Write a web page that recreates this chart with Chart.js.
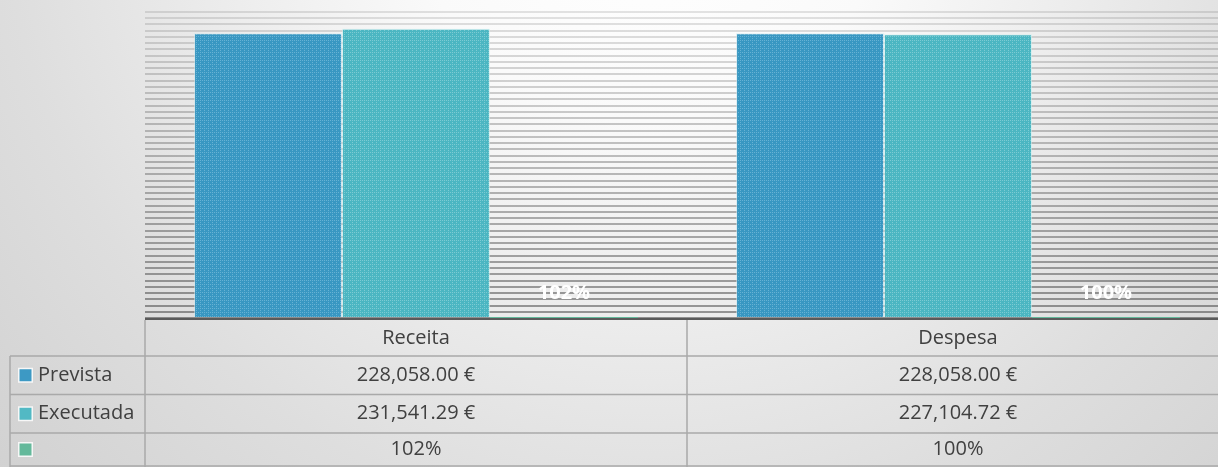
<!DOCTYPE html>
<html>
<head>
<meta charset="utf-8">
<script src="https://cdn.jsdelivr.net/npm/chart.js@4"></script>
<style>
  html, body { margin: 0; padding: 0; overflow: hidden; background: #dcdcdc; }
  #wrap { position: relative; width: 1230px; height: 467px; }
</style>
</head>
<body>
<div id="wrap"><canvas id="c" width="1230" height="467"></canvas></div>
<script>
// ---- data ----
const categories = ['Receita', 'Despesa'];
const seriesNames = ['Prevista', 'Executada', ''];
const prevista = [228058.00, 228058.00];
const executada = [231541.29, 227104.72];
const percentRatio = [1.02, 1.00];
const yMax = 245000;
const yStep = 5000;

// ---- styles ----
const FONT = "'Open Sans', 'DejaVu Sans', sans-serif";
const TEXT = '#404040';
const LINE = '#a9a9a9';

function makePattern(base, light) {
  const c = document.createElement('canvas');
  c.width = 4; c.height = 4;
  const g = c.getContext('2d');
  g.fillStyle = base; g.fillRect(0, 0, 4, 4);
  g.fillStyle = light;
  g.fillRect(0, 0, 1, 1); g.fillRect(2, 0, 1, 1); g.fillRect(0, 2, 1, 1);
  return g.createPattern(c, 'repeat');
}
const ctx0 = document.getElementById('c').getContext('2d');
const fillPrev = makePattern('#3897c2', '#66b2d4');
const fillExec = makePattern('#4bb6c2', '#7ccbd3');
const legendColors = ['#3d99c4', '#52b9c4', '#64b99b'];

function money(v) {
  return v.toLocaleString('en-US', { minimumFractionDigits: 2, maximumFractionDigits: 2 }) + ' €';
}
function pct(v) { return Math.round(v * 100) + '%'; }

const bgPlugin = {
  id: 'bg',
  beforeDraw(chart) {
    const { ctx, width, height } = chart;
    ctx.save();
    const g = ctx.createRadialGradient(650, -120, 40, 650, -120, 1050);
    g.addColorStop(0, '#ffffff');
    g.addColorStop(0.2, '#fafafa');
    g.addColorStop(0.6, '#dedede');
    g.addColorStop(1, '#c8c8c8');
    ctx.fillStyle = g;
    ctx.fillRect(0, 0, width, height);
    ctx.restore();
  }
};

const labelPlugin = {
  id: 'pctLabels',
  afterDatasetsDraw(chart) {
    const { ctx, chartArea } = chart;
    const meta = chart.getDatasetMeta(2);
    ctx.save();
    ctx.font = "bold 20px " + FONT;
    ctx.fillStyle = '#ffffff';
    ctx.textAlign = 'center';
    ctx.textBaseline = 'middle';
    meta.data.forEach((el, i) => {
      ctx.fillText(pct(percentRatio[i]), el.x, chartArea.bottom - 25);
    });
    ctx.restore();
  }
};

const tablePlugin = {
  id: 'dataTable',
  afterDraw(chart) {
    const { ctx, chartArea, width } = chart;
    const xs = chart.scales.x;
    const left = chartArea.left;
    const right = width;
    const top = chartArea.bottom + 2;
    const rows = [top, 356, 394.5, 433, 466];
    const colEdges = [left];
    for (let i = 0; i < categories.length - 1; i++) {
      colEdges.push((xs.getPixelForValue(i) + xs.getPixelForValue(i + 1)) / 2);
    }
    const legendLeft = 10;

    ctx.save();
    ctx.strokeStyle = LINE;
    ctx.lineWidth = 1.5;
    ctx.beginPath();
    for (let r = 1; r < rows.length; r++) {
      ctx.moveTo(legendLeft, rows[r]); ctx.lineTo(right, rows[r]);
    }
    colEdges.forEach(x => { ctx.moveTo(x, top); ctx.lineTo(x, 467); });
    ctx.moveTo(legendLeft, rows[1]); ctx.lineTo(legendLeft, 467);
    ctx.stroke();

    ctx.strokeStyle = '#5a5a5a';
    ctx.lineWidth = 2;
    ctx.beginPath();
    ctx.moveTo(left, chartArea.bottom + 1); ctx.lineTo(right, chartArea.bottom + 1);
    ctx.stroke();

    ctx.font = "20px " + FONT;
    ctx.fillStyle = TEXT;
    ctx.textBaseline = 'middle';
    ctx.textAlign = 'center';
    const mid = (a, b) => (a + b) / 2;
    categories.forEach((c, i) => {
      const x = xs.getPixelForValue(i);
      ctx.fillText(c, x, mid(rows[0], rows[1]));
      ctx.fillText(money(prevista[i]), x, mid(rows[1], rows[2]));
      ctx.fillText(money(executada[i]), x, mid(rows[2], rows[3]));
      ctx.fillText(pct(percentRatio[i]), x, mid(rows[3], rows[4]));
    });
    ctx.textAlign = 'left';
    seriesNames.forEach((n, r) => {
      const cy = mid(rows[r + 1], rows[r + 2]);
      ctx.fillStyle = 'rgba(255,255,255,0.8)';
      ctx.fillRect(18, cy - 7.5, 15, 15);
      ctx.fillStyle = legendColors[r];
      ctx.fillRect(19.5, cy - 6, 12, 12);
      ctx.fillStyle = TEXT;
      ctx.fillText(n, 38, cy);
    });
    ctx.restore();
  }
};

new Chart(ctx0, {
  type: 'bar',
  data: {
    labels: categories,
    datasets: [
      { label: seriesNames[0], data: prevista, backgroundColor: fillPrev, borderColor: 'rgba(200,230,240,0.6)', borderWidth: 1 },
      { label: seriesNames[1], data: executada, backgroundColor: fillExec, borderColor: 'rgba(200,240,240,0.6)', borderWidth: 1 },
      { label: seriesNames[2], data: percentRatio, backgroundColor: legendColors[2], borderWidth: 0 }
    ]
  },
  options: {
    responsive: false,
    animation: false,
    events: [],
    layout: { padding: { left: 145, top: 12, right: 1, bottom: 149 } },
    plugins: { legend: { display: false }, tooltip: { enabled: false } },
    datasets: { bar: { categoryPercentage: 0.819, barPercentage: 1.0 } },
    scales: {
      x: { display: false },
      y: {
        display: true,
        min: 0, max: yMax,
        ticks: { display: false, stepSize: yStep },
        border: { display: false },
        grid: {
          drawTicks: false,
          lineWidth: 2,
          color: (c) => {
            const v = c.tick ? c.tick.value : 0;
            const a = 0.44 - 0.32 * (v / yMax);
            return 'rgba(30,30,30,' + a.toFixed(3) + ')';
          }
        }
      }
    }
  },
  plugins: [bgPlugin, labelPlugin, tablePlugin]
});
</script>
</body>
</html>
